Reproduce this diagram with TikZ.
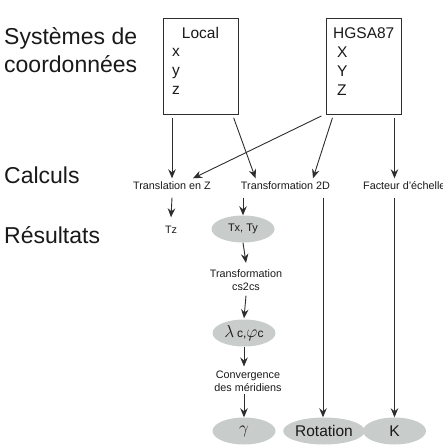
\documentclass[tikz,border=0pt]{standalone}
\usepackage{fontspec}
\setmainfont{Liberation Sans}
\usetikzlibrary{arrows.meta,calc,shapes.geometric}
\definecolor{ell}{RGB}{200,204,202}
\definecolor{ln}{RGB}{45,45,45}
\begin{document}
\begin{tikzpicture}[x=1pt,y=-1pt,
 big/.style={font=\fontsize{23}{28}\selectfont, inner sep=0pt, anchor=base west, text=black!90},
 sm/.style={font=\fontsize{10.8}{13}\selectfont, inner sep=2.5pt, text height=8pt, text depth=2.5pt, text=black!90},
 smm/.style={font=\fontsize{10.8}{13}\selectfont, inner sep=0pt, align=center, text=black!90},
 boxt/.style={font=\fontsize{15.5}{19}\selectfont, inner sep=0pt, anchor=base west, text=black!90},
 sysbox/.style={draw=ln, line width=0.9pt, minimum width=75pt, minimum height=96pt, inner sep=0pt},
 res/.style={ellipse, fill=ell, minimum width=63pt, minimum height=27pt, inner sep=0pt, text=black!90},
 arr/.style={draw=ln, line width=0.9pt, -{Stealth[length=9pt,width=7.5pt,inset=3pt]}},
]
\useasboundingbox (0,0) rectangle (443,448);

% left labels
\node[big] (lsys1) at (4,44) {Systèmes de};
\node[big] (lsys2) at (4,72) {coordonnées};
\node[big] (lcalc) at (4,183) {Calculs};
\node[big] (lres) at (4,243) {Résultats};

% coordinate systems
\node[sysbox] (local) at (200.5,66) {};
\node[sysbox] (hgsa) at (363.5,66) {};
\node[boxt, anchor=base] (loct) at (200.5,38) {Local};
\node[boxt] (lx) at (172,56) {x};
\node[boxt] (ly) at (172,75) {y};
\node[boxt] (lz) at (172,94) {z};
\node[boxt] (ht) at (333,38) {HGSA87};
\node[boxt] (hx) at (337,57) {X};
\node[boxt] (hy) at (337,76) {Y};
\node[boxt] (hz) at (337,95) {Z};

% calculations
\node[sm, anchor=base] (tz) at (172,189) {Translation en Z};
\node[sm, anchor=base] (t2d) at (285.5,189) {Transformation 2D};
\node[sm, anchor=base west] (fact) at (360.5,189) {Facteur d'échelle};

% results
\node[sm, anchor=base] (tzr) at (171,233) {Tz};
\node[res, font=\fontsize{11}{13}\selectfont] (txty) at (243,229) {Tx, Ty};
\node[smm] (cs) at (246,280.5) {Transformation\\cs2cs};
\node[res] (lam) at (244,333) {\fontsize{17}{17}\selectfont$\lambda$\,{\fontsize{12}{12}\selectfont c,}$\varphi${\fontsize{12}{12}\selectfont c}};
\node[smm] (conv) at (248,381) {Convergence\\des méridiens};
\node[res, font=\fontsize{17}{17}\selectfont] (gam) at (244,431) {$\gamma$};
\node[res, font=\fontsize{15.5}{17}\selectfont] (rot) at (324,431) {Rotation};
\node[res, font=\fontsize{15.5}{17}\selectfont] (k) at (394.5,431) {K};

% connectors from coordinate systems
\draw[arr, shorten <=3.5pt] (local.south -| tz.north) -- (tz.north);
\draw[arr, shorten <=3.5pt] ($(local.south east)+(-6,0)$) -- ($(t2d.north)+(-30,0)$);
\draw[arr, shorten <=3.5pt] ($(hgsa.south west)+(-1,0)$) -- ($(tz.north)+(21,0)$);
\draw[arr, shorten <=3.5pt] ($(hgsa.south west)+(8,0)$) -- ($(t2d.north)+(27.5,0)$);
\draw[arr, shorten <=3.5pt] (k.north |- hgsa.south) -- (k.north |- fact.north);

% vertical chains
\draw[arr] ($(tz.south)+(0,3.5)$) -- ($(tzr.north)+(0,-5)$);
\draw[arr] ($(txty.north |- t2d.south)+(0,3.5)$) -- (txty.north);
\draw[arr] (txty.south) -- ($(cs.north)+(0,-7)$);
\draw[arr] ($(cs.south)+(0,4.5)$) -- ($(lam.north)+(0,-1)$);
\draw[arr] (lam.south) -- ($(conv.north)+(-4,-4)$);
\draw[arr] ($(conv.south)+(-4,2.5)$) -- (gam.north);
\draw[arr] ($(rot.north |- t2d.south)+(-1,3.5)$) -- ($(rot.north)+(-1,0)$);
\draw[arr] ($(k.north |- fact.south)+(0,3.5)$) -- (k.north);
\end{tikzpicture}
\end{document}
